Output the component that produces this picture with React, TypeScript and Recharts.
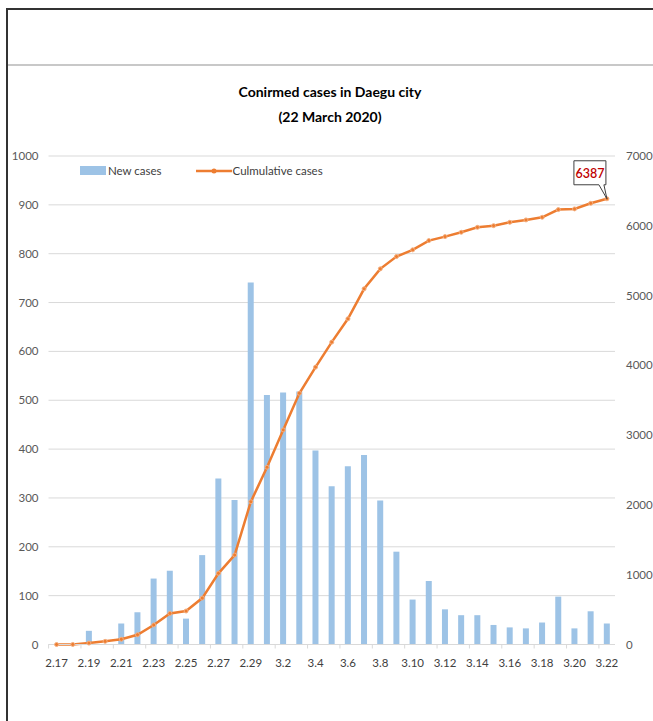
import { Bar, ComposedChart, Line, XAxis, YAxis, CartesianGrid } from "recharts"

const dates = [
    "2.17", "2.18", "2.19", "2.20", "2.21", "2.22", "2.23", "2.24", "2.25", "2.26", "2.27", "2.28", "2.29",
    "3.1", "3.2", "3.3", "3.4", "3.5", "3.6", "3.7", "3.8", "3.9", "3.10", "3.11", "3.12", "3.13", "3.14",
    "3.15", "3.16", "3.17", "3.18", "3.19", "3.20", "3.21", "3.22",
]

const newCases = [
    0, 1, 28, 0, 43, 66, 135, 151, 53, 183, 340, 296, 741,
    511, 516, 518, 397, 324, 365, 388, 295, 190, 92, 130, 72, 60, 60,
    40, 35, 33, 45, 98, 33, 68, 43,
]

const cumulative = [
    0, 1, 20, 45, 75, 140, 280, 445, 480, 665, 1020, 1282, 2046,
    2540, 3075, 3600, 3975, 4333, 4667, 5097, 5383, 5559, 5655, 5788, 5845, 5907, 5978,
    6002, 6050, 6084, 6122, 6232, 6242, 6322, 6387,
]

const leftTicks = [0, 100, 200, 300, 400, 500, 600, 700, 800, 900, 1000]
const rightTicks = [0, 1000, 2000, 3000, 4000, 5000, 6000, 7000]

const data = dates.map((d, i) => ({ date: d, newCases: newCases[i], cumulative: cumulative[i] }))

const FONT = "Lato, 'Open Sans', sans-serif"
const BLUE = "#9dc3e6"
const ORANGE = "#ed7d31"

function DateTick(props: any) {
    const { x, y, payload } = props
    return (
        <g>
            <line x1={x - 8} x2={x - 8} y1={y - 8} y2={y - 4} stroke="#d9d9d9" />
            <text x={x} y={y + 14} textAnchor="middle" fontSize={11.5} fill="#404040" fontFamily={FONT}>
                {payload.value}
            </text>
        </g>
    )
}

function LastLabel(props: any) {
    const { x, y, index, value } = props
    if (index !== dates.length - 1) return null
    return (
        <g>
            <path
                d={`M${x - 33},${y - 38} H${x - 1} V${y - 14} H${x - 3} L${x},${y} L${x - 8},${y - 14} H${x - 33} Z`}
                fill="#fff"
                stroke="#404040"
                strokeWidth={1}
            />
            <text x={x - 17} y={y - 21} textAnchor="middle" fontSize={12.5} fontWeight={600} fill="#c00000" fontFamily={FONT}>
                {value}
            </text>
        </g>
    )
}

function LegendBox() {
    return (
        <div style={{ display: "flex", alignItems: "center", fontFamily: FONT, fontSize: 11.5, color: "#404040" }}>
            <span style={{ display: "inline-block", width: 26, height: 9, background: BLUE, marginRight: 2 }} />
            <span style={{ marginRight: 34 }}>New cases</span>
            <svg width={36} height={10} style={{ marginRight: 1 }}>
                <line x1={0} x2={36} y1={5} y2={5} stroke={ORANGE} strokeWidth={2.5} />
                <circle cx={18} cy={5} r={2.5} fill={ORANGE} />
            </svg>
            <span>Culmulative cases</span>
        </div>
    )
}

export default function App() {
    return (
        <div style={{ position: "relative", width: 653, height: 721, background: "#fff", overflow: "hidden" }}>
            <style>{`body{margin:0}`}</style>
            <div style={{ position: "absolute", top: 8, left: 6, width: 660, height: 730, borderTop: "2px solid #333", borderLeft: "2px solid #333" }} />
            <div style={{ position: "absolute", top: 64, left: 8, width: 660, height: 1.5, background: "#c8c8c8" }} />
            <div style={{ position: "absolute", top: 79, left: 0, width: 660, textAlign: "center", fontFamily: FONT, fontWeight: 700, fontSize: 14, lineHeight: "25px", color: "#000" }}>
                Conirmed cases in Daegu city
                <br />
                (22 March 2020)
            </div>
            <div style={{ position: "absolute", top: 0, left: 0 }}>
                <ComposedChart width={653} height={721} data={data} margin={{ top: 156, right: 0, bottom: 46.5, left: 0 }}>
                    <CartesianGrid yAxisId="left" vertical={false} stroke="#d9d9d9" />
                    <XAxis dataKey="date" height={30} interval={1} tickLine={false} stroke="#d9d9d9" tick={<DateTick />} />
                    <YAxis
                        yAxisId="left"
                        width={48.5}
                        domain={[0, 1000]}
                        ticks={leftTicks}
                        axisLine={false}
                        tickLine={false}
                        tickMargin={4}
                        tick={{ fontSize: 11.5, fill: "#595959", fontFamily: FONT }}
                    />
                    <YAxis
                        yAxisId="right"
                        orientation="right"
                        width={38}
                        domain={[0, 7000]}
                        ticks={rightTicks}
                        axisLine={false}
                        tickLine={false}
                        tickMargin={5}
                        tick={{ fontSize: 11.5, fill: "#595959", fontFamily: FONT }}
                    />
                    <Bar yAxisId="left" dataKey="newCases" name="New cases" fill={BLUE} barSize={6} isAnimationActive={false} />
                    <Line
                        yAxisId="right"
                        dataKey="cumulative"
                        name="Culmulative cases"
                        stroke={ORANGE}
                        strokeWidth={2.5}
                        dot={{ r: 2, fill: ORANGE, stroke: "#f4b183", strokeWidth: 1 }}
                        label={<LastLabel />}
                        isAnimationActive={false}
                    />
                </ComposedChart>
            </div>
            <div style={{ position: "absolute", top: 164, left: 80 }}>
                <LegendBox />
            </div>
        </div>
    )
}
